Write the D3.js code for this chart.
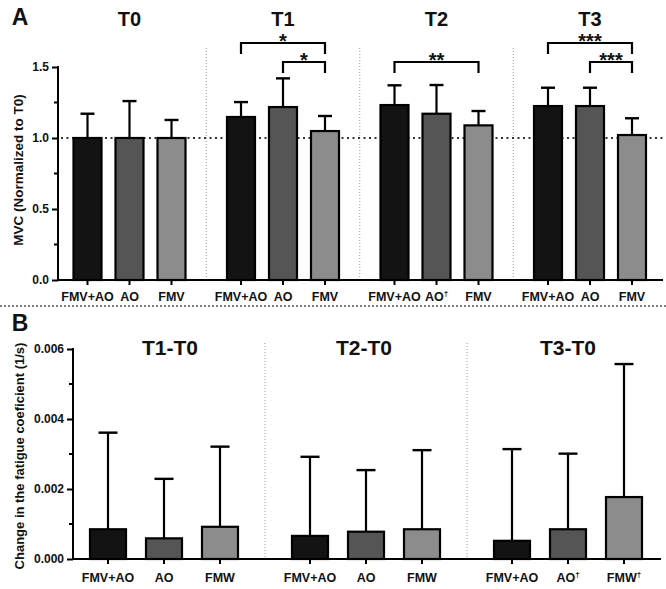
<!DOCTYPE html>
<html><head><meta charset="utf-8">
<script src="https://cdn.jsdelivr.net/npm/d3@7"></script>
<style>
html,body{margin:0;padding:0;background:#fff;}
text{font-family:"Liberation Sans",Arial,sans-serif;font-weight:bold;fill:#111;}
</style></head>
<body><svg id="c" width="666" height="589"></svg>
<script>
// ---------- data ----------
const groupsA = ["T0", "T1", "T2", "T3"];
const catsA = ["FMV+AO", "AO", "FMV"];
const meanA = [[1.0, 1.0, 1.0], [1.148, 1.218, 1.049], [1.232, 1.171, 1.089], [1.225, 1.225, 1.021]];
const sdA = [[0.171, 0.26, 0.127], [0.105, 0.202, 0.106], [0.139, 0.202, 0.101], [0.129, 0.129, 0.118]];
const daggerA = [[0, 0, 0], [0, 0, 0], [0, 1, 0], [0, 0, 0]];
const sigGroup = ["T1", "T1", "T2", "T3", "T3"];
const sigFrom = [0, 1, 0, 0, 1];
const sigTo = [2, 2, 2, 2, 2];
const sigLevel = [0, 1, 1, 0, 1];
const sigLabel = ["*", "*", "**", "***", "***"];
const ticksA = [0, 0.5, 1.0, 1.5];
const minorA = [0.25, 0.75, 1.25];

const groupsB = ["T1-T0", "T2-T0", "T3-T0"];
const catsB = ["FMV+AO", "AO", "FMW"];
const meanB = [[0.00085, 0.00059, 0.00092], [0.00066, 0.00078, 0.00085], [0.00052, 0.00085, 0.00177]];
const sdB = [[0.00276, 0.0017, 0.00229], [0.00226, 0.00176, 0.00226], [0.00262, 0.00216, 0.0038]];
const daggerB = [[0, 0, 0], [0, 0, 0], [0, 1, 1]];
const ticksB = [0, 0.002, 0.004, 0.006];
const minorB = [0.001, 0.003, 0.005];

const fills = ["#131313", "#555555", "#8c8c8c"];

// ---------- drawing ----------
const svg = d3.select("#c");

function panel(cfg) {
  const g = svg.append("g");
  const x0 = d3.scaleBand().domain(cfg.groups).range(cfg.groupRange);
  const x1 = d3.scaleBand().domain(d3.range(3)).range(cfg.innerRange)
    .paddingInner(cfg.pi).paddingOuter(cfg.po);
  const y = d3.scaleLinear().domain(cfg.yDomain).range(cfg.yRange);
  const cx = (gi, ci) => x0(cfg.groups[gi]) + x0.bandwidth() / 2 + x1(ci) + x1.bandwidth() / 2;

  // separators
  cfg.groups.slice(1).forEach((gr) => {
    g.append("line").attr("x1", x0(gr)).attr("x2", x0(gr))
      .attr("y1", cfg.sepTop).attr("y2", y(0))
      .attr("stroke", "#999").attr("stroke-width", 1).attr("stroke-dasharray", "1,2");
  });

  // ref line
  if (cfg.refLine != null) {
    g.append("line").attr("x1", cfg.axisX + 3).attr("x2", cfg.axisEnd)
      .attr("y1", y(cfg.refLine)).attr("y2", y(cfg.refLine))
      .attr("stroke", "#333").attr("stroke-width", 2).attr("stroke-dasharray", "2,3.5");
  }

  // bars
  cfg.groups.forEach((gr, gi) => {
    cfg.means[gi].forEach((m, ci) => {
      const c = cx(gi, ci), bw = x1.bandwidth();
      const top = y(m + cfg.sds[gi][ci]);
      g.append("line").attr("x1", c).attr("x2", c).attr("y1", y(m)).attr("y2", top)
        .attr("stroke", "#000").attr("stroke-width", 2.2);
      g.append("line").attr("x1", c - cfg.cap / 2).attr("x2", c + cfg.cap / 2).attr("y1", top).attr("y2", top)
        .attr("stroke", "#000").attr("stroke-width", 2.4);
      g.append("rect").attr("x", c - bw / 2).attr("y", y(m)).attr("width", bw).attr("height", y(0) - y(m))
        .attr("fill", fills[ci]).attr("stroke", "#000").attr("stroke-width", 2.2);
      // x tick
      g.append("line").attr("x1", c).attr("x2", c).attr("y1", y(0)).attr("y2", y(0) + 5)
        .attr("stroke", "#000").attr("stroke-width", 2);
      // label
      const t = g.append("text").attr("x", c).attr("y", cfg.labelY).attr("text-anchor", "middle")
        .style("font-size", "12.5px");
      t.append("tspan").text(cfg.cats[ci]);
      if (cfg.daggers[gi][ci]) {
        t.append("tspan").attr("dy", -5).style("font-size", "8px").text("\u2020");
      }
    });
    // title
    g.append("text").attr("x", x0(gr) + x0.bandwidth() / 2 + (cfg.titleDx ? cfg.titleDx[gi] : 0))
      .attr("y", cfg.titleY).attr("text-anchor", "middle")
      .style("font-size", cfg.titleSize).text(gr);
  });

  // y axis
  const axis = d3.axisLeft(y).tickValues(cfg.ticks).tickFormat(cfg.fmt).tickSize(6).tickPadding(3);
  const ag = g.append("g").attr("transform", `translate(${cfg.axisX},0)`).call(axis);
  ag.select(".domain").remove();
  ag.selectAll(".tick line").attr("stroke", "#000").attr("stroke-width", 2);
  ag.selectAll(".tick text").style("font-size", "12px").style("font-family", "Liberation Sans, Arial, sans-serif")
    .style("font-weight", "bold").attr("fill", "#111");
  cfg.minor.forEach((v) => {
    g.append("line").attr("x1", cfg.axisX - 4).attr("x2", cfg.axisX).attr("y1", y(v)).attr("y2", y(v))
      .attr("stroke", "#000").attr("stroke-width", 2);
  });
  g.append("line").attr("x1", cfg.axisX).attr("x2", cfg.axisX)
    .attr("y1", y(cfg.yDomain[1]) - 1).attr("y2", y(0) + 1)
    .attr("stroke", "#000").attr("stroke-width", 2);
  g.append("line").attr("x1", cfg.axisX - 1).attr("x2", cfg.axisEnd)
    .attr("y1", y(0)).attr("y2", y(0)).attr("stroke", "#000").attr("stroke-width", 2);

  // y label
  g.append("text").attr("transform", `translate(${cfg.yLabelX},${cfg.yLabelY}) rotate(-90)`)
    .attr("text-anchor", "middle").style("font-size", cfg.yLabelSize).text(cfg.yLabel);

  // panel letter
  g.append("text").attr("x", cfg.letterX).attr("y", cfg.letterY).attr("text-anchor", "middle")
    .style("font-size", "23px").text(cfg.letter);

  return {x: cx, y: y, g: g};
}

const A = panel({
  groups: groupsA, cats: catsA, means: meanA, sds: sdA, daggers: daggerA,
  groupRange: [52.75, 666.75], innerRange: [-63, 63], pi: 1 / 3, po: 1 / 6,
  yDomain: [0, 1.5], yRange: [280, 67], ticks: ticksA, minor: minorA,
  fmt: d3.format(".1f"), axisX: 58, axisEnd: 663, refLine: 1.0, cap: 14,
  sepTop: 48, labelY: 301, titleY: 26, titleSize: "20px",
  yLabel: "MVC (Normalized to T0)", yLabelX: 23, yLabelY: 170, yLabelSize: "13.5px",
  letter: "A", letterX: 20, letterY: 25
});

const B = panel({
  groups: groupsB, cats: catsB, means: meanB, sds: sdB, daggers: daggerB,
  groupRange: [63, 669], innerRange: [-84, 84], pi: 20 / 56, po: 10 / 56,
  yDomain: [0, 0.006], yRange: [559, 349], ticks: ticksB, minor: minorB,
  fmt: d3.format(".3f"), axisX: 73, axisEnd: 661, refLine: null, cap: 19,
  sepTop: 343, labelY: 582, titleY: 355, titleSize: "21px", titleDx: [6, -2, 0],
  yLabel: "Change in the fatigue coeficient (1/s)", yLabelX: 24, yLabelY: 456, yLabelSize: "13px",
  letter: "B", letterX: 20, letterY: 331
});

// significance brackets (panel A)
const levelY = [43, 62];
sigGroup.forEach((gr, i) => {
  const gi = groupsA.indexOf(gr);
  const xa = A.x(gi, sigFrom[i]), xb = A.x(gi, sigTo[i]);
  const yy = levelY[sigLevel[i]];
  A.g.append("path").attr("d", `M${xa},${yy + 11}V${yy}H${xb}V${yy + 11}`)
    .attr("fill", "none").attr("stroke", "#000").attr("stroke-width", 2.2);
  A.g.append("text").attr("x", (xa + xb) / 2).attr("y", yy + 5).attr("text-anchor", "middle")
    .style("font-size", "20px").text(sigLabel[i]);
});

// horizontal panel divider
svg.append("line").attr("x1", 0).attr("x2", 666).attr("y1", 306).attr("y2", 306)
  .attr("stroke", "#555").attr("stroke-width", 1.3).attr("stroke-dasharray", "2,2");
</script></body></html>
